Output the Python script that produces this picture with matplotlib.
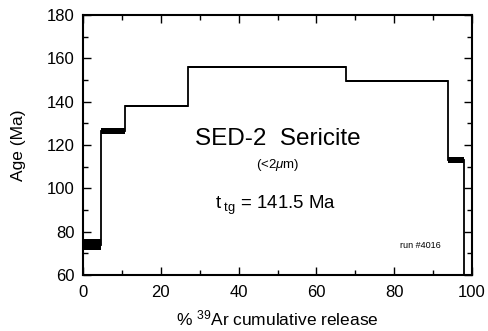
import matplotlib
matplotlib.use("Agg")
import matplotlib.pyplot as plt
from matplotlib.ticker import MultipleLocator

plt.rcParams['font.family'] = ['Liberation Sans', 'DejaVu Sans']
plt.rcParams['mathtext.fontset'] = 'custom'
plt.rcParams['mathtext.rm'] = 'Liberation Sans'
plt.rcParams['mathtext.it'] = 'Liberation Sans:italic'

# cumulative 39Ar release step edges (%)
edges = [0, 4.7, 10.9, 27.0, 67.7, 93.8, 97.9]
# apparent ages (Ma) and half-widths of the error boxes
ages = [74.0, 126.4, 138.0, 156.0, 149.5, 112.9]
errs = [2.5, 1.3, 0.4, 0.5, 0.4, 1.4]

fig = plt.figure(figsize=(4.88, 3.31), dpi=100)
ax = fig.add_axes([83/488, 1-275/331, (472-83)/488, (275-15)/331])

for i in range(len(ages)):
    ax.bar(edges[i], 2*errs[i], bottom=ages[i]-errs[i], width=edges[i+1]-edges[i],
           align='edge', color='black', linewidth=0)
ax.stairs(ages, edges, baseline=60, color='black', linewidth=1.3)

ax.set_xlim(0, 100)
ax.set_ylim(60, 180)
ax.xaxis.set_major_locator(MultipleLocator(20))
ax.xaxis.set_minor_locator(MultipleLocator(10))
ax.yaxis.set_major_locator(MultipleLocator(20))
ax.yaxis.set_minor_locator(MultipleLocator(10))
ax.tick_params(which='both', direction='in', top=True, right=True, width=1.0, labelsize=12)
ax.tick_params(axis='x', which='major', pad=7)
ax.tick_params(axis='y', which='major', pad=6)
ax.tick_params(which='major', length=6)
ax.tick_params(which='minor', length=3.5)
for s in ax.spines.values():
    s.set_linewidth(1.5)

ax.set_xlabel(r'% $^{\mathrm{39}}$Ar cumulative release', fontsize=12.5)
ax.set_ylabel('Age (Ma)', fontsize=12.5)
ax.xaxis.set_label_coords(0.5, -(308-275)/260, transform=ax.transAxes)
ax.yaxis.set_label_coords(-(83-26)/389, 0.5, transform=ax.transAxes)

ax.text(50.1, 122.7, 'SED-2  Sericite', fontsize=17.5, ha='center', va='center')
ax.text(50.1, 110.8, r'(<2$\mu$m)', fontsize=9.5, ha='center', va='center')
ax.text(49.5, 92.0, r't$_{\ \mathrm{tg}}$ = 141.5 Ma', fontsize=13.4, ha='center', va='center')
ax.text(86.7, 73.8, 'run #4016', fontsize=6.5, ha='center', va='center')

fig.savefig('out.png', dpi=100)
